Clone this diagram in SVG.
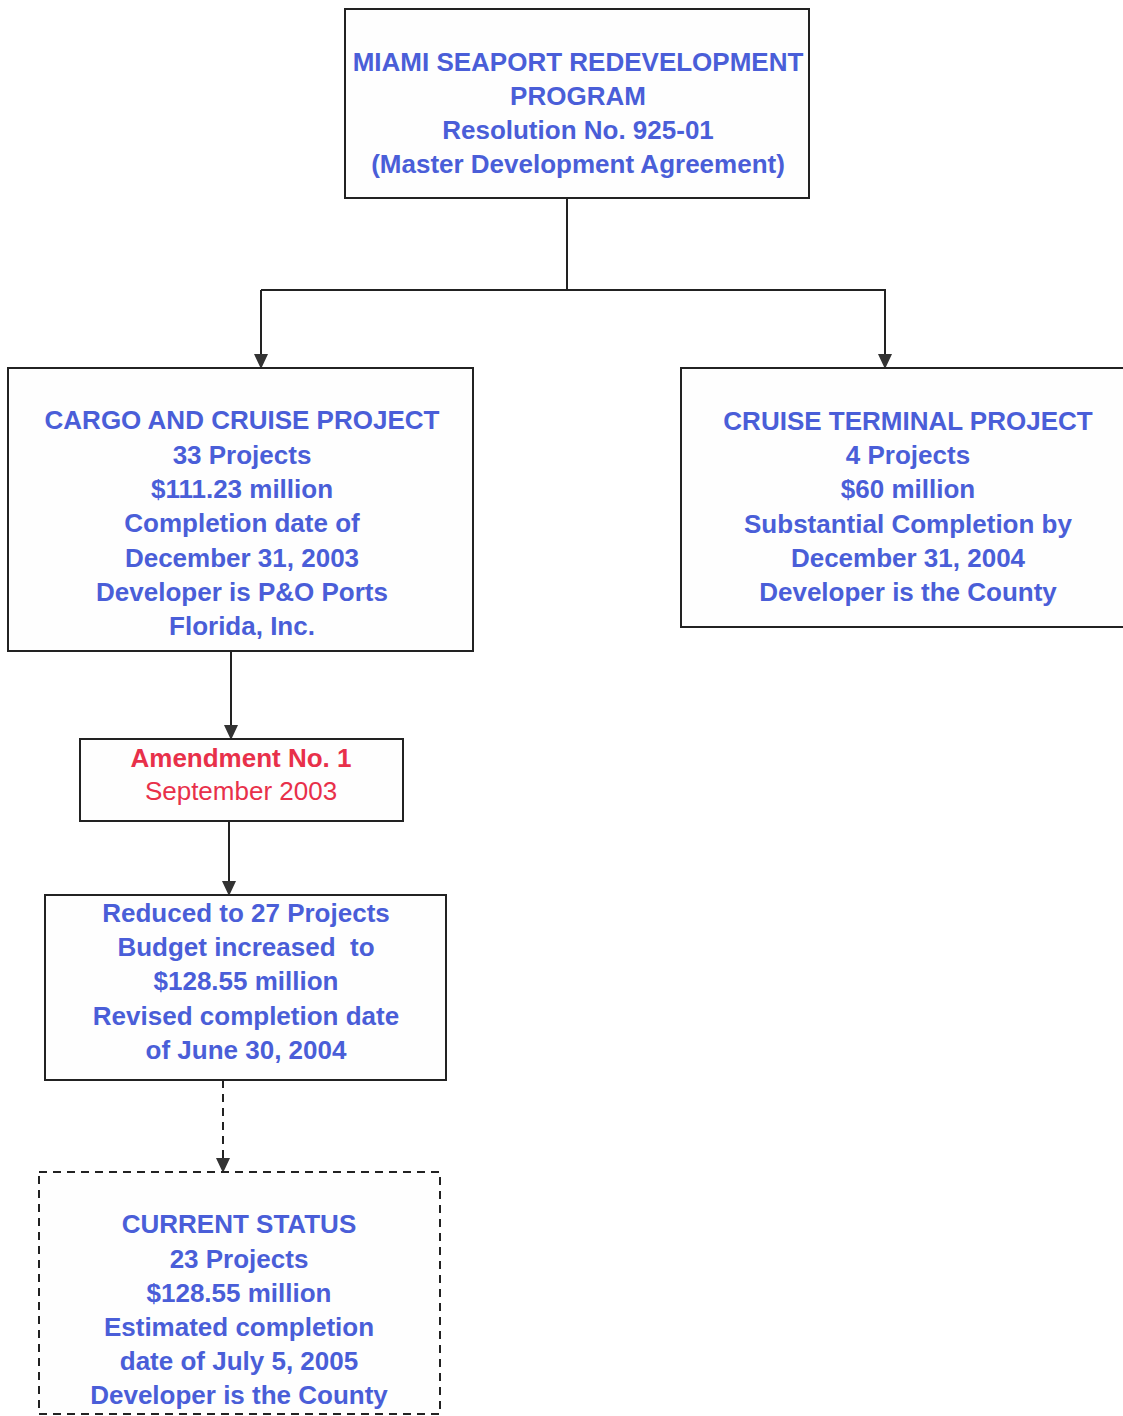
<svg xmlns="http://www.w3.org/2000/svg" width="1123" height="1416" viewBox="0 0 1123 1416">
<defs>
<marker id="arr" markerWidth="16" markerHeight="14" refX="15" refY="7" orient="auto" markerUnits="userSpaceOnUse" viewBox="0 0 16 14">
<path d="M0,0 L15,7 L0,14 Z" fill="#333"/>
</marker>
<style>
.box{fill:#fefefe;stroke:#222;stroke-width:2}
.dash{stroke-dasharray:8,6}
.t{font-family:"Liberation Sans",Arial,sans-serif;font-size:26px;font-weight:bold;fill:#4a5ed8;text-anchor:middle}
.r{fill:#e8304a}
.n{font-weight:normal}
.c{fill:none;stroke:#222;stroke-width:2}
</style>
</defs>
<rect width="1123" height="1416" fill="#ffffff"/>
<g id="connectors">
<path class="c" d="M567,198 V290"/>
<path class="c" d="M261,290 H886"/>
<path class="c" d="M261,290 V369" marker-end="url(#arr)"/>
<path class="c" d="M885,290 V369" marker-end="url(#arr)"/>
<path class="c" d="M231,651 V740" marker-end="url(#arr)"/>
<path class="c" d="M229,821 V896" marker-end="url(#arr)"/>
<path class="c dash" d="M223,1080 V1173" marker-end="url(#arr)"/>
</g>
<g id="program">
<rect class="box" x="345" y="9" width="464" height="189"/>
<text class="t" x="578" y="71">MIAMI SEAPORT REDEVELOPMENT</text>
<text class="t" x="578" y="105">PROGRAM</text>
<text class="t" x="578" y="139">Resolution No. 925-01</text>
<text class="t" x="578" y="173">(Master Development Agreement)</text>
</g>
<g id="cargo">
<rect class="box" x="8" y="368" width="465" height="283"/>
<text class="t" x="242" y="429">CARGO AND CRUISE PROJECT</text>
<text class="t" x="242" y="464">33 Projects</text>
<text class="t" x="242" y="498">$111.23 million</text>
<text class="t" x="242" y="532">Completion date of</text>
<text class="t" x="242" y="567">December 31, 2003</text>
<text class="t" x="242" y="601">Developer is P&amp;O Ports</text>
<text class="t" x="242" y="635">Florida, Inc.</text>
</g>
<g id="cruise">
<rect class="box" x="681" y="368" width="445" height="259"/>
<text class="t" x="908" y="430">CRUISE TERMINAL PROJECT</text>
<text class="t" x="908" y="464">4 Projects</text>
<text class="t" x="908" y="498">$60 million</text>
<text class="t" x="908" y="533">Substantial Completion by</text>
<text class="t" x="908" y="567">December 31, 2004</text>
<text class="t" x="908" y="601">Developer is the County</text>
</g>
<g id="amendment">
<rect class="box" x="80" y="739" width="323" height="82"/>
<text class="t r" x="241" y="767">Amendment No. 1</text>
<text class="t r n" x="241" y="800">September 2003</text>
</g>
<g id="reduced">
<rect class="box" x="45" y="895" width="401" height="185"/>
<text class="t" x="246" y="922">Reduced to 27 Projects</text>
<text class="t" x="246" y="956" xml:space="preserve">Budget increased  to</text>
<text class="t" x="246" y="990">$128.55 million</text>
<text class="t" x="246" y="1025">Revised completion date</text>
<text class="t" x="246" y="1059">of June 30, 2004</text>
</g>
<g id="current">
<rect class="box dash" x="39" y="1172" width="401" height="242"/>
<text class="t" x="239" y="1233">CURRENT STATUS</text>
<text class="t" x="239" y="1268">23 Projects</text>
<text class="t" x="239" y="1302">$128.55 million</text>
<text class="t" x="239" y="1336">Estimated completion</text>
<text class="t" x="239" y="1370">date of July 5, 2005</text>
<text class="t" x="239" y="1404">Developer is the County</text>
</g>
</svg>
